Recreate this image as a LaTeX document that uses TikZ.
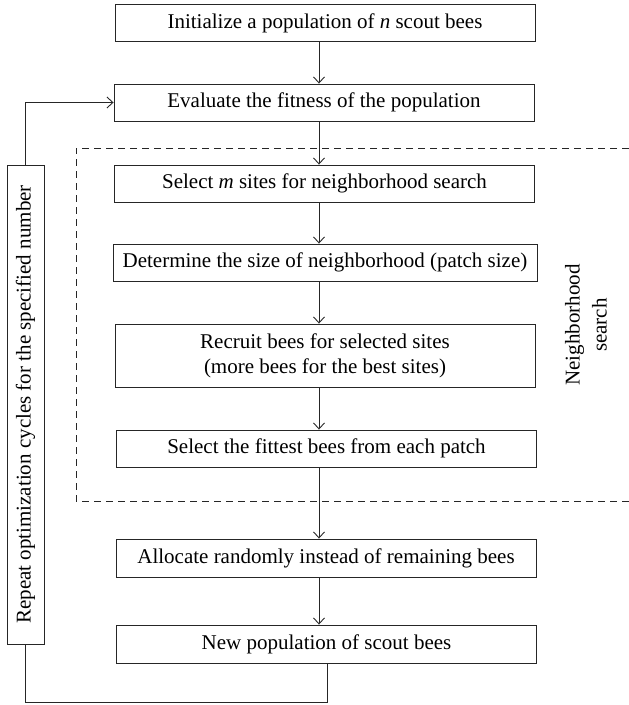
\documentclass[tikz,border=0pt]{standalone}
\usepackage{fontspec}
\setmainfont{Liberation Serif}
\usetikzlibrary{arrows.meta}

\tikzset{
	stepbox/.style={draw=black!85, line width=0.9pt, minimum width=420pt,
		minimum height=37pt, inner sep=0pt, align=center,
		font=\fontsize{21}{25}\selectfont},
	flow/.style={draw=black!85, line width=0.9pt,
		-{Straight Barb[length=6pt,width=11pt,line width=0.9pt]}},
	loopline/.style={draw=black!85, line width=0.9pt}
}

\begin{document}
\begin{tikzpicture}[x=1pt, y=-1pt]
	\useasboundingbox (0,0) rectangle (629,705);
	% Ablaufschritte
	\node[stepbox] (init) at (325, 23) {Initialize a population of \textit{n} scout bees};
	\node[stepbox] (eval) at (324, 102.5) {Evaluate the fitness of the population};
	\node[stepbox] (select) at (324.5, 183.5) {Select \textit{m} sites for neighborhood search};
	\node[stepbox, minimum width=424pt] (size) at (325, 262.5) {Determine the size of neighborhood (patch size)};
	\node[stepbox, minimum height=63pt] (recruit) at (325, 355.5) {Recruit bees for selected sites\\(more bees for the best sites)};
	\node[stepbox] (fittest) at (326.5, 448.5) {Select the fittest bees from each patch};
	\node[stepbox, minimum height=38pt] (allocate) at (326, 558) {Allocate randomly instead of remaining bees};
	\node[stepbox, minimum height=38pt] (newpop) at (326.5, 644) {New population of scout bees};

	% Schleife links
	\node[stepbox, rotate=90, minimum width=479pt] (repeat) at (25.5, 404.5) {Repeat optimization cycles for the specified number};

	% Nachbarschaftssuche
	\draw[dashed, dash pattern=on 7pt off 5pt, draw=black!85, line width=0.9pt]
		(629, 148) -- (76, 148) -- (76, 501) -- (629, 501);
	\node[rotate=90, align=center, font=\fontsize{21}{27}\selectfont] (nbh) at (586, 325) {Neighborhood\\search};

	% Pfeile
	\draw[flow] ([xshift=-6pt]init.south) -- ([xshift=-5pt]eval.north);
	\draw[flow] ([xshift=-5pt]eval.south) -- ([xshift=-5.5pt]select.north);
	\draw[flow] ([xshift=-5.5pt]select.south) -- ([xshift=-6pt]size.north);
	\draw[flow] ([xshift=-6pt]size.south) -- ([xshift=-6pt]recruit.north);
	\draw[flow] ([xshift=-6pt]recruit.south) -- ([xshift=-7.5pt]fittest.north);
	\draw[flow] ([xshift=-7.5pt]fittest.south) -- ([xshift=-7pt]allocate.north);
	\draw[flow] ([xshift=-7pt]allocate.south) -- ([xshift=-7.5pt]newpop.north);

	% Rueckfuehrung
	\coordinate (loopbot) at (25.5, 702);
	\draw[loopline] ([xshift=1pt]newpop.south) |- (loopbot) -- (repeat.west);
	\draw[flow] (repeat.east) |- (eval.west);
\end{tikzpicture}
\end{document}
